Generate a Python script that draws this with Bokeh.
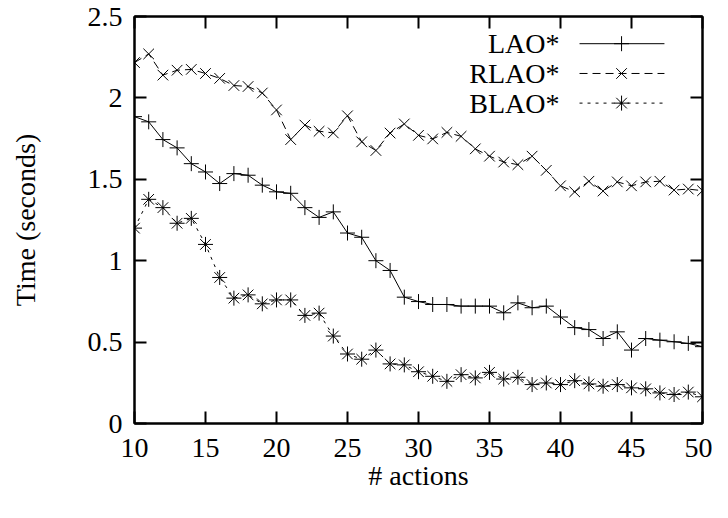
from bokeh.plotting import figure
from bokeh.models import (LinearAxis, FixedTicker, NumeralTickFormatter, Range1d, Label,
                          CustomLabelingPolicy)
from bokeh.embed import file_html
from bokeh.resources import INLINE

actions = list(range(10, 51))
lao = [1.885, 1.853, 1.744, 1.693, 1.596, 1.545, 1.474, 1.535, 1.525, 1.464,
       1.423, 1.414, 1.326, 1.266, 1.300, 1.170, 1.144, 1.000, 0.940, 0.776,
       0.749, 0.731, 0.731, 0.721, 0.721, 0.721, 0.680, 0.741, 0.711, 0.721,
       0.654, 0.589, 0.577, 0.522, 0.563, 0.451, 0.522, 0.512, 0.502, 0.492,
       0.472]
rlao = [2.217, 2.270, 2.140, 2.170, 2.175, 2.150, 2.120, 2.076, 2.070, 2.030,
        1.926, 1.744, 1.833, 1.795, 1.785, 1.890, 1.730, 1.677, 1.784, 1.840,
        1.770, 1.748, 1.788, 1.764, 1.687, 1.642, 1.606, 1.590, 1.642, 1.555,
        1.460, 1.423, 1.488, 1.428, 1.484, 1.460, 1.484, 1.488, 1.434, 1.440,
        1.430]
blao = [1.200, 1.377, 1.326, 1.230, 1.260, 1.100, 0.897, 0.770, 0.790, 0.735,
        0.759, 0.759, 0.664, 0.678, 0.537, 0.427, 0.395, 0.451, 0.366, 0.360,
        0.318, 0.290, 0.259, 0.300, 0.280, 0.314, 0.273, 0.284, 0.239, 0.249,
        0.239, 0.263, 0.243, 0.229, 0.239, 0.219, 0.213, 0.188, 0.178, 0.193,
        0.164]
series_names = ["LAO*", "RLAO*", "BLAO*"]
x_ticks = [10, 15, 20, 25, 30, 35, 40, 45, 50]
y_ticks = [0, 0.5, 1, 1.5, 2, 2.5]

FONT = "Liberation Serif"
FS = "28px"

p = figure(width=712, height=502, output_backend="svg", toolbar_location=None,
           x_range=Range1d(10, 50), y_range=Range1d(0, 2.5),
           min_border_left=134, min_border_right=10, min_border_top=16,
           min_border_bottom=79)
p.grid.visible = False
p.outline_line_color = "black"
p.outline_line_width = 2
p.background_fill_color = "white"
p.border_fill_color = "white"

def style_axis(ax):
    ax.axis_line_width = 2
    ax.axis_line_color = "black"
    ax.major_tick_in = 12
    ax.major_tick_out = 0
    ax.major_tick_line_width = 2
    ax.minor_tick_line_color = None
    ax.major_label_text_font = FONT
    ax.major_label_text_font_size = FS
    ax.major_label_text_color = "black"
    ax.axis_label_text_font = FONT
    ax.axis_label_text_font_size = FS
    ax.axis_label_text_font_style = "normal"
    ax.axis_label_text_color = "black"

p.xaxis.ticker = FixedTicker(ticks=x_ticks)
p.yaxis.ticker = FixedTicker(ticks=y_ticks)
p.yaxis.formatter = NumeralTickFormatter(format="0.[0]")
p.xaxis.axis_label = "# actions"
p.yaxis.axis_label = "Time (seconds)"
style_axis(p.xaxis[0])
style_axis(p.yaxis[0])
p.xaxis.major_label_standoff = 15
p.yaxis.major_label_standoff = 12
p.xaxis.axis_label_standoff = 0
p.yaxis.axis_label_standoff = 44

# mirrored tick marks on top and right (no labels)
for loc, ticks in (("above", x_ticks), ("right", y_ticks)):
    ax = LinearAxis(ticker=FixedTicker(ticks=ticks),
                    major_label_policy=CustomLabelingPolicy(code="return new Set()"))
    style_axis(ax)
    ax.major_label_text_font_size = "0px"
    ax.major_label_standoff = 0
    p.add_layout(ax, loc)

p.line(actions, lao, line_color="black", line_width=1)
p.scatter(actions, lao, marker="cross", size=15, line_color="black", line_width=1)
p.line(actions, rlao, line_color="black", line_width=1, line_dash="8 5")
p.scatter(actions, rlao, marker="x", size=15, line_color="black", line_width=1)
p.line(actions, blao, line_color="black", line_width=1, line_dash="3 5")
p.scatter(actions, blao, marker="asterisk", size=15, line_color="black", line_width=1)

# legend (gnuplot style: text then sample)
leg_y = [2.333, 2.15, 1.968]
dashes = ["solid", "8 5", "3 5"]
markers = ["cross", "x", "asterisk"]
for name, yy, dsh, mk in zip(series_names, leg_y, dashes, markers):
    p.add_layout(Label(x=39.93, y=yy, text=name, text_align="right",
                       text_baseline="middle", text_font=FONT,
                       text_font_size=FS, text_color="black"))
    p.segment(x0=41.34, y0=yy, x1=47.32, y1=yy, line_color="black",
              line_width=1, line_dash=dsh)
    p.scatter(x=[44.3], y=[yy], marker=mk, size=15, line_color="black", line_width=1)

open("out.html", "w").write(file_html(p, INLINE))
